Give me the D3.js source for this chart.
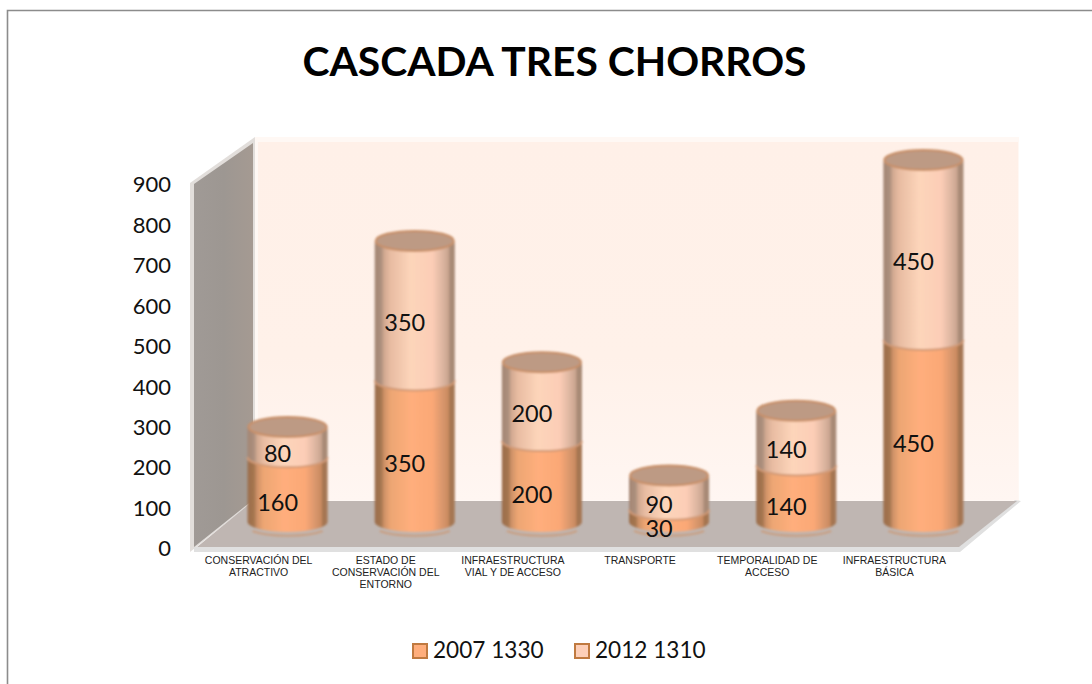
<!DOCTYPE html>
<html><head><meta charset="utf-8">
<script src="https://cdn.jsdelivr.net/npm/d3@7"></script>
<style>html,body{margin:0;padding:0;background:#fff}svg{display:block}</style>
</head><body><svg id="c" width="1092" height="684"></svg>
<script>
const categories = [
  ["CONSERVACIÓN DEL","ATRACTIVO"],
  ["ESTADO DE","CONSERVACIÓN DEL","ENTORNO"],
  ["INFRAESTRUCTURA","VIAL Y DE ACCESO"],
  ["TRANSPORTE"],
  ["TEMPORALIDAD DE","ACCESO"],
  ["INFRAESTRUCTURA","BÁSICA"]
];
const series2007 = [160,350,200,30,140,450];
const series2012 = [80,350,200,90,140,450];
const seriesNames = ["2007 1330","2012 1310"];
const yTicks = [0,100,200,300,400,500,600,700,800,900];
const titleText = "CASCADA TRES CHORROS";

const svg = d3.select("#c");
const fontC = "Lato, Carlito, 'Open Sans', sans-serif";
const y = d3.scaleLinear().domain([0,900]).range([547,183]);
const x = d3.scaleBand().domain(d3.range(categories.length)).range([224,987]).paddingInner(0.37).paddingOuter(0.185);
const depthY = 25, ry = 10;

const defs = svg.append("defs");
function grad(id, stops){
  const g = defs.append("linearGradient").attr("id",id);
  stops.forEach(s=>g.append("stop").attr("offset",s[0]).attr("stop-color",s[1]));
}
grad("g07",[[0,"#9c6e4c"],[0.08,"#a4754f"],[0.12,"#cf9268"],[0.2,"#eda673"],[0.45,"#ffae7c"],[0.72,"#fba876"],[0.85,"#d8966c"],[0.92,"#c98a60"],[0.94,"#a3744f"],[1,"#a87a58"]]);
grad("g12",[[0,"#a48674"],[0.08,"#ab8f7d"],[0.12,"#d2a991"],[0.2,"#e8bca2"],[0.45,"#fdd5ba"],[0.72,"#fccdb6"],[0.85,"#dcb5a0"],[0.92,"#c9a48f"],[0.94,"#a88a76"],[1,"#a88a76"]]);
grad("wallL",[[0,"#a09a96"],[0.5,"#9d9792"],[1,"#a59a92"]]);
const back = defs.append("linearGradient").attr("id","back").attr("x1",0).attr("x2",0).attr("y1",0).attr("y2",1);
[[0,"#fff0e8"],[0.6,"#fff1e9"],[1,"#fff6f2"]].forEach(s=>back.append("stop").attr("offset",s[0]).attr("stop-color",s[1]));
defs.append("filter").attr("id","soft").attr("x","-10%").attr("width","120%").append("feGaussianBlur").attr("stdDeviation",0.9);

// chart frame: only top and left edges are visible
svg.append("path").attr("d","M7.5,684V10.5H1092").attr("fill","none").attr("stroke","#8c8c8c").attr("stroke-width",1.6);

// 3D walls
const wallTop = 137, floorBack = 500;
svg.append("rect").attr("x",255).attr("y",wallTop).attr("width",764).attr("height",floorBack-wallTop+1).attr("fill","#fff8f4");
svg.append("rect").attr("x",258).attr("y",wallTop+5).attr("width",760).attr("height",floorBack-wallTop-5).attr("fill","url(#back)");
svg.append("path").attr("d","M190,183L255,137V500L190,552Z").attr("fill","#e2dedb");
svg.append("path").attr("d","M194,184L253,143V500L194,547Z").attr("fill","url(#wallL)");
svg.append("path").attr("d","M194,552H960L1021,501L1015,500L958,547H194Z").attr("fill","#e0e0e0");
svg.append("path").attr("d","M197,547L253,501H1017L959,547Z").attr("fill","#bfb6b2");

// y axis
const axis = svg.append("g").attr("transform","translate(180,0)").call(d3.axisLeft(y).tickValues(yTicks).tickSize(0).tickPadding(9));
axis.select(".domain").remove();
axis.selectAll("text").attr("font-family",fontC).attr("font-size",22).attr("fill","#111").attr("dy","0.4em");

// cylinders
function cyl(cx, rx, yBot, yTop){
  return `M${cx-rx},${yTop}A${rx},${ry} 0 0 0 ${cx+rx},${yTop}V${yBot}A${rx},${ry} 0 0 1 ${cx-rx},${yBot}Z`;
}
const marks = svg.append("g").attr("filter","url(#soft)");
const rows = categories.map((c,i)=>({i,a:series2007[i],b:series2012[i]}));
const px = v => y(v)-depthY;
const G = marks.selectAll("g.bar").data(rows).join("g").attr("class","bar");
G.each(function(d){
  const g = d3.select(this), rx = x.bandwidth()/2, cx = x(d.i)+rx;
  // pale upper segment
  g.append("path").attr("d",cyl(cx,rx,px(d.a),px(d.a+d.b)+2)).attr("fill","url(#g12)");
  g.append("ellipse").attr("cx",cx).attr("cy",px(d.a+d.b)+2).attr("rx",rx-1).attr("ry",ry).attr("fill","#bd9a84").attr("stroke","#c98f66").attr("stroke-width",2);
  // lower segment
  g.append("path").attr("d",cyl(cx,rx,px(0),px(d.a))).attr("fill","url(#g07)");
  g.append("path").attr("d",`M${cx-rx},${px(d.a)}A${rx},${ry} 0 0 0 ${cx+rx},${px(d.a)}`).attr("fill","none").attr("stroke","#d29a76").attr("stroke-width",2);
  g.append("path").attr("d",`M${cx-rx+5},${px(0)+ry-1}A${rx},${ry-1} 0 0 0 ${cx+rx-5},${px(0)+ry-1}`).attr("fill","none").attr("stroke","#c99f82").attr("stroke-width",2);
});

// value labels
const labels = svg.append("g").attr("font-family",fontC).attr("font-size",23.5).attr("fill","#111").attr("text-anchor","middle").attr("dominant-baseline","central");
rows.forEach(d=>{
  const cx = x(d.i)+x.bandwidth()/2-10;
  labels.append("text").attr("x",cx).attr("y",y(d.a/2)-13).text(d.a);
  labels.append("text").attr("x",cx).attr("y",y(d.a+d.b/2)-13).text(d.b);
});

// category labels
const cat = svg.append("g").attr("font-family","'Liberation Sans', Arial, sans-serif").attr("font-size",10.5).attr("fill","#222").attr("text-anchor","middle");
categories.forEach((lines,i)=>{
  const t = cat.append("text").attr("transform",`translate(${x(i)+x.bandwidth()/2-29},563.5)`);
  lines.forEach((s,j)=>t.append("tspan").attr("x",0).attr("y",j*12).text(s));
});

// title
svg.append("text").attr("x",554.5).attr("y",75.5).attr("text-anchor","middle").attr("font-family",fontC).attr("font-weight",700).attr("font-size",40.8).attr("fill","#000").text(titleText);

// legend
const legendX = [412,574], fills=["#ffae7c","#fdcfb8"];
seriesNames.forEach((n,i)=>{
  svg.append("rect").attr("x",legendX[i]+1).attr("y",644).attr("width",14).attr("height",14).attr("fill",fills[i]).attr("stroke","#c07a40").attr("stroke-width",2);
  svg.append("text").attr("x",legendX[i]+21).attr("y",658).attr("font-family",fontC).attr("font-size",22.6).attr("fill","#111").text(n);
});
</script></body></html>
